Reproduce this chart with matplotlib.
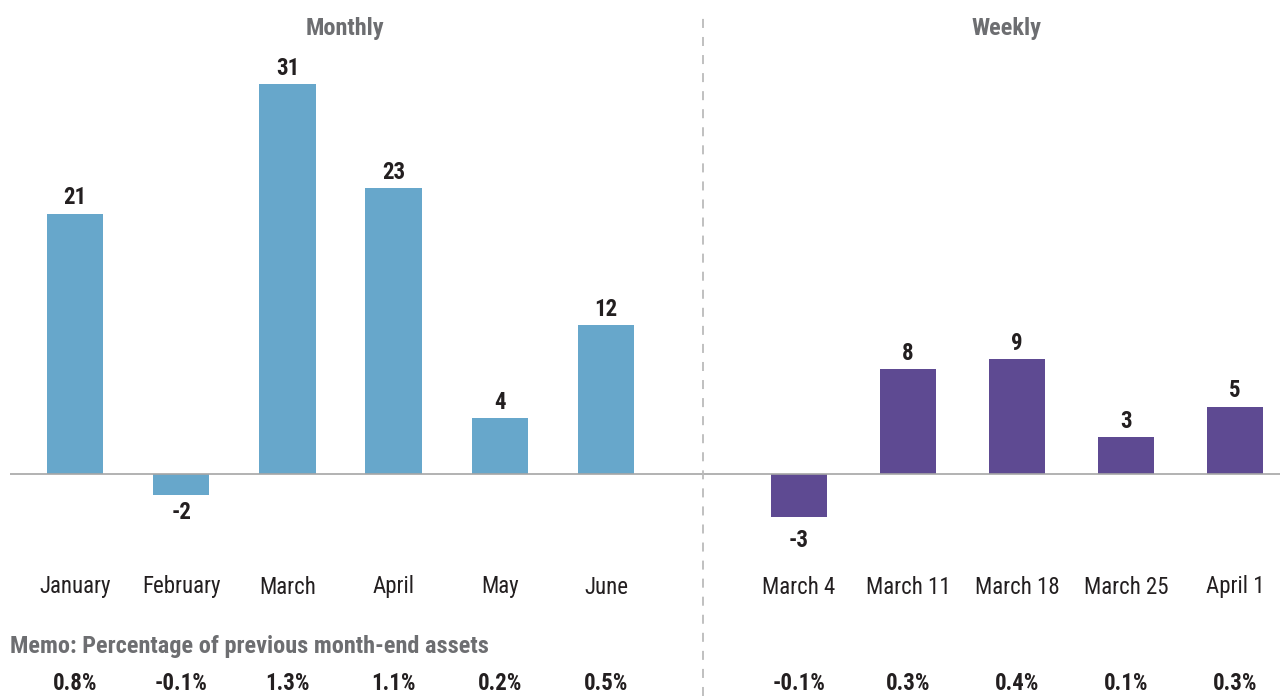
import matplotlib
matplotlib.use("Agg")
import matplotlib.pyplot as plt
from matplotlib import font_manager

# data
months = ["January", "February", "March", "April", "May", "June"]
month_vals = [20.7, -1.7, 31.0, 22.7, 4.4, 11.8]
month_labels = ["21", "-2", "31", "23", "4", "12"]
month_memo = ["0.8%", "-0.1%", "1.3%", "1.1%", "0.2%", "0.5%"]

weeks = ["March 4", "March 11", "March 18", "March 25", "April 1"]
week_vals = [-3.5, 8.3, 9.1, 2.9, 5.3]
week_labels = ["-3", "8", "9", "3", "5"]
week_memo = ["-0.1%", "0.3%", "0.4%", "0.1%", "0.3%"]

memo_title = "Memo: Percentage of previous month-end assets"

# pick a narrow-ish font if there is one
installed = {f.name for f in font_manager.fontManager.ttflist}
font = "DejaVu Sans"
for name in ["Liberation Sans Narrow", "Roboto Condensed", "Open Sans Condensed", "Roboto", "Lato"]:
    if name in installed:
        font = name
        break
plt.rcParams["font.family"] = [font, "DejaVu Sans"]

W, H = 1280, 696
fig = plt.figure(figsize=(12.8, 6.96), dpi=100)

base_px = 473.5
px_per_unit = 12.56
ylo = -(H - base_px) / px_per_unit
yhi = base_px / px_per_unit

def yfrac(py):
    return 1 - py / H

dark = "#231f20"
grey = "#6d6e71"

def panel(left_px, right_px, x0_px, step_px, cats, vals, labels, memo, color, width,
          title, title_x, neg_off):
    ax = fig.add_axes([left_px / W, 0, (right_px - left_px) / W, 1])
    xlo = (left_px - x0_px) / step_px
    xhi = (right_px - x0_px) / step_px
    xs = list(range(len(cats)))
    ax.bar(xs, vals, width=width, color=color, zorder=2)
    ax.axhline(0, color="#a6a6a6", lw=1.2, zorder=3)
    ax.set_xlim(xlo, xhi)
    ax.set_ylim(ylo, yhi)
    ax.axis("off")
    tr = ax.get_xaxis_transform()
    for x, v, lab, c, m in zip(xs, vals, labels, cats, memo):
        off = 11.5 if v >= 0 else -neg_off
        ax.annotate(lab, (x, v), xytext=(0, off), textcoords="offset points",
                    ha="center", va="center", fontsize=16.5, fontweight="bold", color=dark)
        ax.text(x, yfrac(587), c, transform=tr, ha="center", va="center",
                fontsize=16.5, color=dark)
        ax.text(x, yfrac(684), m, transform=tr, ha="center", va="center",
                fontsize=16.5, fontweight="bold", color=dark)
    fig.text(title_x / W, yfrac(28), title, ha="center", va="center",
             fontsize=17.5, fontweight="bold", color=grey)
    return ax

panel(10, 690, 75, 106.2, months, month_vals, month_labels, month_memo,
      "#67a7cb", 0.53, "Monthly", 345, 12.5)
panel(690, 1280, 799, 109, weeks, week_vals, week_labels, week_memo,
      "#5e4a92", 0.51, "Weekly", 1006, 16.5)

fig.text(10 / W, yfrac(647), memo_title, ha="left", va="center",
         fontsize=17.5, fontweight="bold", color=grey)

# divider between the two panels
fig.add_artist(plt.Line2D([703 / W, 703 / W], [0, yfrac(15)], transform=fig.transFigure,
                          color="#bbbbbb", lw=1.3, ls=(0, (5, 5))))

fig.savefig("out.png", dpi=100)
